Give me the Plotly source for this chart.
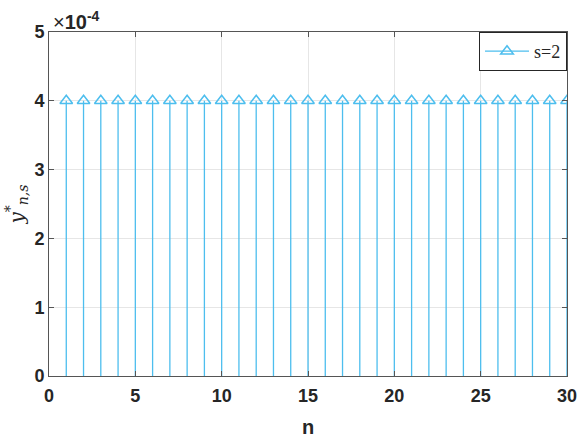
import plotly.graph_objects as go

n_values = list(range(1, 31))
y_values = [4e-4] * 30
series_name = "s=2"
y_tick_vals = [0, 1e-4, 2e-4, 3e-4, 4e-4, 5e-4]
y_tick_text = ["0", "1", "2", "3", "4", "5"]
x_tick_vals = [0, 5, 10, 15, 20, 25, 30]

color = "#4DBEEE"

stem_x, stem_y = [], []
for n, v in zip(n_values, y_values):
    stem_x += [n, n, None]
    stem_y += [0, v, None]

fig = go.Figure()
fig.add_trace(go.Scatter(x=stem_x, y=stem_y, mode="lines",
                         line=dict(color=color, width=1.3), showlegend=False, hoverinfo="skip"))
fig.add_trace(go.Scatter(x=n_values, y=y_values, mode="markers",
                         marker=dict(symbol="triangle-up-open", size=11, color=color,
                                     line=dict(width=1.5, color=color)),
                         showlegend=False))
fig.add_trace(go.Scatter(x=[None], y=[None], mode="lines+markers", name=series_name,
                         line=dict(color=color, width=1.3),
                         marker=dict(symbol="triangle-up-open", size=11, color=color,
                                     line=dict(width=1.5, color=color))))

axis_common = dict(showline=True, linecolor="#555555", linewidth=1, mirror="ticks",
                   ticks="inside", ticklen=5, tickcolor="#555555",
                   showgrid=True, gridcolor="#e6e6e6", zeroline=False, automargin=False,
                   tickfont=dict(family="Liberation Sans", size=18, color="#262626"))

fig.update_xaxes(range=[0, 30], tickvals=x_tick_vals,
                 ticktext=[f"<b>{v}</b>" for v in x_tick_vals],
                 ticklabelstandoff=3,
                 title=dict(text="<b>n</b>", font=dict(family="Liberation Sans", size=20, color="#262626"),
                            standoff=16),
                 **axis_common)
fig.update_yaxes(range=[0, 5e-4], tickvals=y_tick_vals,
                 ticktext=[f"<b>{t}</b>" for t in y_tick_text],
                 title=dict(text="<i>y</i><sup>*</sup><sub><i>n,s</i></sub>",
                            font=dict(family="DejaVu Serif", size=20, color="#262626"),
                            standoff=4),
                 **axis_common)

fig.add_annotation(x=0, y=1, xref="paper", yref="paper", xanchor="left", yanchor="bottom",
                   text="<span style='font-weight:300'>\u00d7</span><b>10</b><sup><b>-4</b></sup>",
                   showarrow=False,
                   font=dict(family="Liberation Sans", size=20, color="#262626"), yshift=-3, xshift=2)

fig.update_layout(width=584, height=438, margin=dict(l=49, r=17, t=32, b=62),
                  plot_bgcolor="white", paper_bgcolor="white",
                  legend=dict(x=1, y=1, xanchor="right", yanchor="top",
                              bordercolor="#262626", borderwidth=1, bgcolor="white",
                              font=dict(family="Liberation Serif", size=18, color="#262626"),
                              itemwidth=44, tracegroupgap=0))

fig.write_html("out.html", config={"displayModeBar": False},
               post_script="document.body.style.margin='0px';")
